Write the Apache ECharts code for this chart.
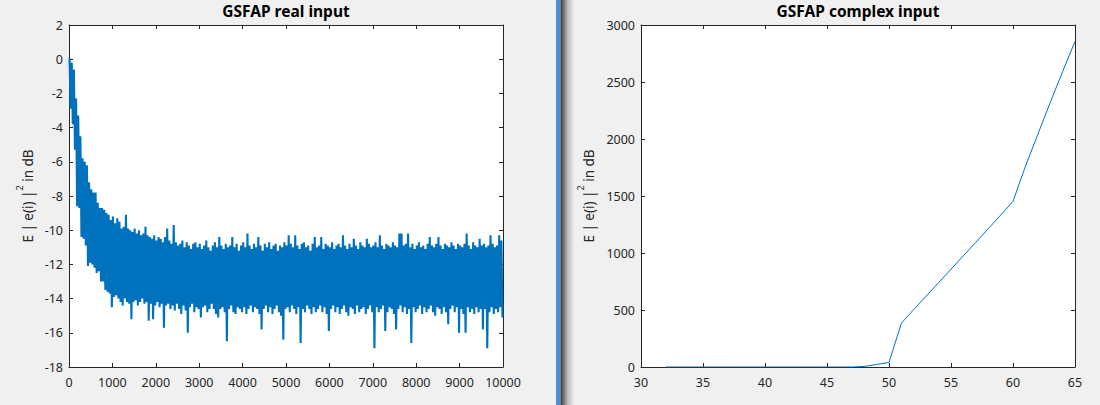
<!DOCTYPE html>
<html><head><meta charset="utf-8">
<script src="https://cdn.jsdelivr.net/npm/echarts@6/dist/echarts.min.js"></script>
<style>html,body{margin:0;padding:0;background:#f0f0f0;} #c{width:1100px;height:405px;}</style>
</head><body><div id="c"></div>
<script>
// ---- data ----
// Left panel: 10000 iterations summarised as per-bin max/min envelope (bins of 50 iterations)
const binSize = 50;
const realUpper = [
 0.05, -0.2, -0.6, -2.3, -3.3, -4.5, -5.8, -6.0, -6.2, -7.2,
 -7.6, -7.8, -7.8, -8.4, -8.7, -8.7, -8.8, -9.0, -9.1, -9.4,
 -9.2, -9.6, -9.3, -9.5, -9.9, -9.8, -9.1, -9.9, -10.0, -10.1,
 -9.9, -10.2, -10.0, -10.3, -10.2, -9.8, -10.3, -10.4, -10.5, -10.3,
 -10.6, -10.4, -10.5, -10.7, -10.4, -9.9, -10.6, -10.8, -9.7, -10.7,
 -10.9, -10.8, -10.6, -11.0, -10.7, -10.9, -11.1, -10.8, -10.7, -11.0,
 -10.8, -11.1, -10.9, -10.6, -11.0, -11.2, -10.9, -10.7, -11.0, -10.4,
 -10.9, -11.1, -10.8, -11.0, -10.9, -10.4, -11.0, -10.8, -11.2, -10.9,
 -10.7, -11.0, -10.2, -10.9, -11.1, -10.8, -11.0, -10.4, -10.9, -11.2,
 -10.8, -11.0, -10.7, -11.1, -10.9, -10.8, -11.2, -10.9, -11.0, -10.7,
 -10.9, -10.3, -10.8, -11.0, -10.3, -10.9, -11.1, -10.8, -10.7, -11.0,
 -10.9, -11.2, -10.8, -10.4, -11.0, -10.9, -10.4, -11.1, -10.8, -10.9,
 -11.0, -10.7, -11.1, -10.9, -10.8, -11.0, -10.3, -10.9, -11.1, -10.8,
 -11.0, -10.5, -10.9, -11.1, -10.7, -10.9, -11.0, -10.5, -10.8, -11.0,
 -10.9, -10.7, -11.0, -10.3, -10.9, -11.1, -10.8, -10.9, -11.0, -10.7,
 -10.9, -11.0, -10.2, -10.2, -10.9, -10.8, -10.2, -11.0, -10.8, -11.1,
 -10.9, -10.7, -11.0, -10.9, -11.1, -10.8, -10.4, -10.9, -11.0, -10.8,
 -10.4, -10.9, -11.1, -10.8, -10.9, -11.0, -10.7, -10.9, -11.1, -10.8,
 -10.9, -11.0, -10.8, -10.2, -10.9, -11.1, -10.7, -10.9, -11.0, -10.5,
 -10.9, -10.8, -11.0, -10.9, -10.3, -10.8, -11.0, -10.9, -10.3, -10.6
];
const realLower = [
 -2.9, -3.8, -5.3, -8.6, -8.7, -10.4, -10.5, -10.9, -12.1, -11.9,
 -12.0, -12.2, -12.5, -12.4, -13.0, -13.0, -13.5, -13.6, -13.7, -14.5,
 -13.9, -13.8, -14.0, -14.2, -14.4, -14.0, -14.2, -14.3, -15.2, -14.2,
 -14.1, -14.4, -14.2, -14.0, -14.3, -14.2, -15.3, -14.3, -15.2, -14.4,
 -14.2, -14.5, -14.3, -15.7, -14.4, -14.3, -14.6, -14.4, -14.7, -14.3,
 -14.6, -14.9, -14.4, -14.7, -16.0, -14.5, -14.3, -14.8, -14.5, -14.6,
 -15.1, -14.5, -14.4, -14.8, -14.6, -14.3, -14.6, -14.9, -15.1, -14.6,
 -14.5, -14.8, -16.5, -14.6, -14.4, -14.8, -14.9, -14.5, -14.6, -14.8,
 -14.5, -14.9, -14.6, -14.4, -14.8, -14.5, -14.6, -14.9, -15.8, -14.6,
 -14.4, -14.8, -14.5, -14.9, -14.6, -14.4, -14.8, -15.0, -16.4, -14.6,
 -14.5, -14.8, -14.4, -14.6, -14.9, -14.5, -16.6, -14.6, -14.8, -14.4,
 -14.6, -14.9, -14.5, -14.8, -14.6, -14.4, -14.8, -14.5, -14.9, -15.9,
 -14.6, -14.4, -14.8, -14.5, -14.9, -14.6, -14.4, -14.8, -15.0, -14.5,
 -14.6, -14.9, -14.4, -14.8, -14.6, -14.5, -14.9, -14.6, -14.4, -14.8,
 -16.9, -14.5, -14.8, -14.6, -14.4, -15.9, -14.8, -14.5, -14.6, -14.9,
 -15.8, -14.6, -14.4, -14.8, -14.5, -14.9, -14.6, -16.6, -14.5, -14.8,
 -14.6, -14.4, -14.9, -14.5, -14.8, -14.6, -14.4, -14.8, -15.0, -14.5,
 -14.6, -14.9, -14.5, -14.8, -15.5, -14.6, -14.4, -14.8, -14.5, -16.0,
 -14.6, -14.9, -16.0, -14.5, -14.8, -14.6, -14.9, -14.5, -14.8, -14.6,
 -15.8, -14.6, -16.9, -14.8, -14.5, -14.9, -14.6, -14.8, -14.5, -15.1
];
// Right panel
const complexX = [32,33,34,35,36,37,38,39,40,41,42,43,44,45,46,47,48,49,50,51,52,53,54,55,56,57,58,59,60,61,62,63,64,65];
const complexY = [0,0,0,0,0,0,0,0,0,0,0,0,0,0,0,0,5,22,40,385,505,622,740,858,976,1094,1212,1332,1453,1760,2040,2320,2590,2856];
const titles = ['GSFAP real input', 'GSFAP complex input'];
const yLabelParts = ['E | e(i) |', '2', ' in dB'];

// ---- build ----
const realPts = [];
for (let i = 0; i < realUpper.length; i++) {
  realPts.push([i * binSize + binSize * 0.25, realUpper[i]]);
  realPts.push([i * binSize + binSize * 0.75, realLower[i]]);
}
const complexPts = complexX.map((x, i) => [x, complexY[i]]);

const FONT = 'Noto Sans';
const AX = '#262626';
const BLUE = '#0072bd';

function xAx(grid, min, max, interval, pos) {
  return {
    type: 'value', gridIndex: grid, min, max, interval, position: pos,
    axisLine: { show: true, onZero: false, lineStyle: { color: AX, width: 1 } },
    axisTick: { show: true, inside: true, length: 4, lineStyle: { color: AX } },
    axisLabel: { show: pos === 'bottom', margin: 9, color: AX, fontSize: 12.5, fontFamily: FONT,
      formatter: v => String(v) },
    splitLine: { show: false }
  };
}
function yAx(grid, min, max, interval, pos, gap) {
  const o = {
    type: 'value', gridIndex: grid, min, max, interval, position: pos,
    axisLine: { show: true, onZero: false, lineStyle: { color: AX, width: 1 } },
    axisTick: { show: true, inside: true, length: 4, lineStyle: { color: AX } },
    axisLabel: { show: pos === 'left', margin: 6, color: AX, fontSize: 12.5, fontFamily: FONT,
      formatter: v => String(v) },
    splitLine: { show: false }
  };
  if (pos === 'left') {
    o.name = '{a|' + yLabelParts[0] + '}{b|' + yLabelParts[1] + '}{a|' + yLabelParts[2] + '}';
    o.nameLocation = 'middle';
    o.nameGap = gap;
    o.nameTextStyle = {
      rich: {
        a: { fontSize: 13.5, fontFamily: FONT, color: AX, lineHeight: 16, verticalAlign: 'middle' },
        b: { fontSize: 9, fontFamily: FONT, color: AX, lineHeight: 16, verticalAlign: 'middle', padding: [0, 0, 17, 0] }
      }
    };
  }
  return o;
}

const chart = echarts.init(document.getElementById('c'), null, { renderer: 'svg' });
chart.setOption({
  animation: false,
  backgroundColor: '#f0f0f0',
  title: [
    { text: titles[0], left: 286, top: 3, padding: 0, textAlign: 'center',
      textStyle: { fontSize: 15.5, fontWeight: 'bold', color: '#000', fontFamily: FONT } },
    { text: titles[1], left: 858, top: 3, padding: 0, textAlign: 'center',
      textStyle: { fontSize: 15.5, fontWeight: 'bold', color: '#000', fontFamily: FONT } }
  ],
  grid: [
    { left: 69, top: 25, width: 434, height: 342, show: true, backgroundColor: '#fff', borderWidth: 0 },
    { left: 641, top: 25, width: 434, height: 342, show: true, backgroundColor: '#fff', borderWidth: 0 }
  ],
  xAxis: [
    xAx(0, 0, 10000, 1000, 'bottom'), xAx(0, 0, 10000, 1000, 'top'),
    xAx(1, 30, 65, 5, 'bottom'), xAx(1, 30, 65, 5, 'top')
  ],
  yAxis: [
    yAx(0, -18, 2, 2, 'left', 20), yAx(0, -18, 2, 2, 'right'),
    yAx(1, 0, 3000, 500, 'left', 29.5), yAx(1, 0, 3000, 500, 'right')
  ],
  series: [
    { type: 'line', xAxisIndex: 0, yAxisIndex: 0, data: realPts, symbol: 'none', showSymbol: false,
      lineStyle: { width: 2.1, color: BLUE }, itemStyle: { color: BLUE }, silent: true },
    { type: 'line', xAxisIndex: 2, yAxisIndex: 2, data: complexPts, symbol: 'none', showSymbol: false,
      lineStyle: { width: 1, color: BLUE }, itemStyle: { color: BLUE }, silent: true }
  ],
  graphic: [
    { type: 'rect', shape: { x: 556, y: 0, width: 4.5, height: 405 }, style: { fill: '#4a90d9' }, silent: true },
    { type: 'rect', shape: { x: 560.5, y: 0, width: 14, height: 405 }, silent: true,
      style: { fill: new echarts.graphic.LinearGradient(0, 0, 1, 0, [
        { offset: 0, color: '#3a3a3a' }, { offset: 0.2, color: '#6a6a6a' },
        { offset: 0.5, color: '#b8b8b8' }, { offset: 1, color: '#f0f0f0' }]) } }
  ]
});
</script>
</body></html>
